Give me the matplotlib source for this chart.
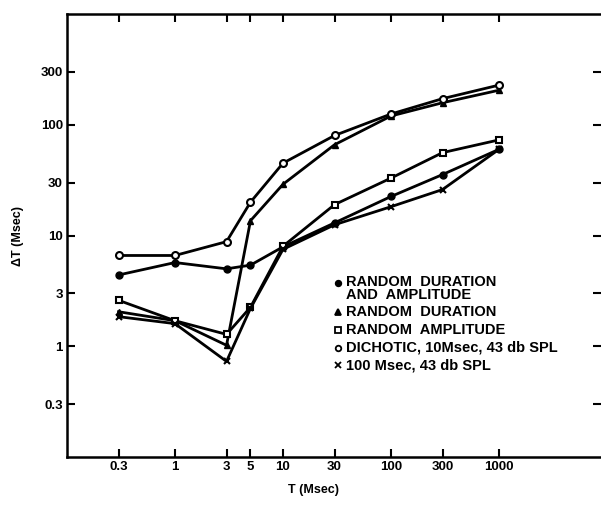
import matplotlib
matplotlib.use("Agg")
import matplotlib.pyplot as plt
from matplotlib.ticker import FixedLocator, NullLocator

plt.rcParams['font.family'] = ['Liberation Sans', 'DejaVu Sans']

T = [0.3, 1, 3, 5, 10, 30, 100, 300, 1000]

rand_dur_amp = [4.4, 5.7, 5.0, 5.4, 7.9, 13, 22.5, 35.5, 60]
rand_dur = [2.05, 1.7, 1.02, 13.6, 29, 66, 120, 158, 205]
rand_amp = [2.6, 1.7, 1.28, 2.25, 8.0, 19, 33, 56, 73]
dichotic = [6.6, 6.6, 8.8, 20, 45, 80, 125, 172, 228]
msec100 = [1.85, 1.6, 0.73, 2.2, 7.5, 12.5, 18.2, 26, 60]

labels = ["RANDOM  DURATION\nAND  AMPLITUDE", "RANDOM  DURATION",
          "RANDOM  AMPLITUDE", "DICHOTIC, 10Msec, 43 db SPL",
          "100 Msec, 43 db SPL"]

xticks = [0.3, 1, 3, 5, 10, 30, 100, 300, 1000]
xticklabels = ["0.3", "1", "3", "5", "10", "30", "100", "300", "1000"]
yticks = [0.3, 1, 3, 10, 30, 100, 300]
yticklabels = ["0.3", "1", "3", "10", "30", "100", "300"]

fig = plt.figure(figsize=(6.01, 5.08), dpi=100)
ax = fig.add_axes([67/601, 1 - 457/508, (601 - 67)/601, (457 - 14)/508])
ax.set_xscale('log')
ax.set_yscale('log')
ax.set_xlim(0.1, 10 ** (3 + 102/108))
ax.set_ylim(0.1, 1000)

lw = 2.0
ax.plot(T, rand_dur_amp, '-o', color='black', lw=lw, ms=5, mfc='black')
ax.plot(T, rand_dur, '-^', color='black', lw=lw, ms=5, mfc='black')
ax.plot(T, rand_amp, '-s', color='black', lw=lw, ms=4.5, mfc='white', mew=1.5)
ax.plot(T, dichotic, '-o', color='black', lw=lw, ms=5, mfc='white', mew=1.5)
ax.plot(T, msec100, '-x', color='black', lw=lw, ms=5, mew=1.5)

ax.xaxis.set_major_locator(FixedLocator(xticks))
ax.xaxis.set_minor_locator(NullLocator())
ax.set_xticklabels(xticklabels, fontsize=9.5, fontweight='bold')
ax.yaxis.set_major_locator(FixedLocator(yticks))
ax.yaxis.set_minor_locator(NullLocator())
ax.set_yticklabels(yticklabels, fontsize=9.5, fontweight='bold')

ax.tick_params(direction='in', length=6, width=1.5, top=True, right=True, pad=3)
for s in ['left', 'bottom', 'top']:
    ax.spines[s].set_linewidth(1.8)
ax.spines['right'].set_visible(False)

# legend drawn as text beside markers
leg_rows = [283, 312, 330, 348, 365]
markers = [dict(marker='o', mfc='black'), dict(marker='^', mfc='black'),
           dict(marker='s', mfc='white'), dict(marker='o', mfc='white'),
           dict(marker='x', mfc='black')]
for i, (lab, yr, mk) in enumerate(zip(labels, leg_rows, markers)):
    yf = 1 - yr/508
    fig.lines.append(plt.Line2D([338/601], [yf], transform=fig.transFigure,
                                color='black', ms=4, mew=1.3, ls='none', **mk))
    if i == 0:
        fig.text(346/601, 1 - (283 - 8)/508, lab, fontsize=10.5,
                 fontweight='bold', va='top', ha='left', linespacing=0.95)
    else:
        fig.text(346/601, yf, lab, fontsize=10.5, fontweight='bold',
                 va='center', ha='left')

fig.text(313/601, 1 - 490/508, "T (Msec)", fontsize=9, fontweight='bold',
         ha='center', va='center')
fig.text(18/601, 1 - 236/508, "ΔT (Msec)", fontsize=9, fontweight='bold',
         ha='center', va='center', rotation=90)

fig.savefig("out.png", dpi=100)
